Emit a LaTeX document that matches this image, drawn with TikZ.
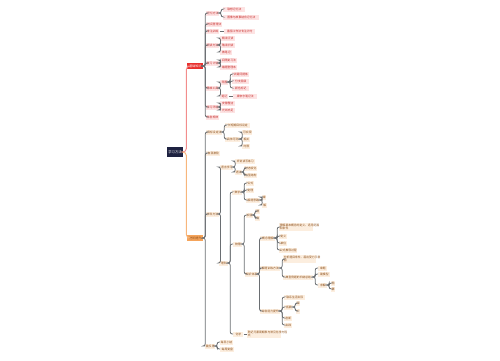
\documentclass[tikz,border=0pt]{standalone}
\usepackage{fontspec}
\newfontfamily\cjk{Noto Sans CJK SC}
\usetikzlibrary{positioning}
\definecolor{navy}{HTML}{1E2241}
\definecolor{mapred}{HTML}{E8302E}
\definecolor{maporange}{HTML}{F5A45B}
\definecolor{pinkfill}{HTML}{FDE3E3}
\definecolor{peachfill}{HTML}{FCEEDF}
\definecolor{spinegray}{HTML}{6A6E72}
\definecolor{brownink}{HTML}{8A4B14}
\tikzset{
  wd/.style={minimum width=#1*0.02cm},
  rootbox/.style={rectangle, fill=navy, text=white, minimum width=0.32cm, minimum height=0.2cm, inner sep=0.3pt, font=\cjk\fontsize{1.9}{2.3}\selectfont},
  redmain/.style={rectangle, anchor=west, fill=mapred, text=white, minimum height=0.12cm, inner sep=0.3pt, font=\cjk\fontsize{1.7}{2}\selectfont},
  ormain/.style={rectangle, anchor=west, fill=maporange, text=brownink, minimum height=0.12cm, inner sep=0.3pt, font=\cjk\fontsize{1.7}{2}\selectfont},
  rl/.style={rectangle, anchor=west, fill=pinkfill, text=mapred!85!black, minimum height=0.1cm, inner sep=0.3pt, font=\cjk\fontsize{1.6}{1.9}\selectfont},
  ol/.style={rectangle, anchor=west, fill=peachfill, text=brownink, minimum height=0.1cm, inner sep=0.3pt, font=\cjk\fontsize{1.6}{1.9}\selectfont},
  twoline/.style={align=left, font=\cjk\fontsize{1.6}{2.1}\selectfont},
  kidline/.style={draw=spinegray, line width=0.45pt, rounded corners=1.2pt},
  mainline/.style={line width=0.55pt, rounded corners=2pt}
}
\begin{document}
\begin{tikzpicture}[x=0.02cm, y=-0.02cm]
  \useasboundingbox (0,0) rectangle (500,360);

  % root and the two main branches
  \node (root) [rootbox] at (175,152) {学习方法};
  \node (R) [redmain, wd=16] at (187,66) {基础知识};
  \node (O) [ormain, wd=16] at (187,238) {进阶提升};
  \draw [mainline, draw=mapred!55] (root.east) -- ++(3,0) |- (R.west);
  \draw [mainline, draw=maporange!80] (root.east) -- ++(3,0) |- (O.west);

  % red branch
  \node (r1) [rl, wd=13] at (206,13) {记忆方法};
  \node (r1a) [rl, wd=22] at (223,9) {联想记忆法};
  \node (r1b) [rl, wd=36] at (223,17) {图像与故事结合记忆法};
  \node (r2) [rl, wd=16] at (206,24) {时间管理法};
  \node (r3) [rl, wd=13] at (206,31) {专注训练};
  \node (r3a) [rl, wd=31] at (224,31) {番茄工作法专注计时};
  \node (r4) [rl, wd=12] at (206,45) {阅读方法};
  \node (r4a) [rl, wd=15] at (220,38) {精读泛读};
  \node (r4b) [rl, wd=15] at (220,45) {略读扫读};
  \node (r4c) [rl, wd=12] at (220,52) {做笔记};
  \node (r5) [rl, wd=12] at (206,63) {复习计划};
  \node (r5a) [rl, wd=17] at (220,60) {间隔复习法};
  \node (r5b) [rl, wd=17] at (220,67) {错题整理本};
  \node (r6) [rl, wd=11] at (206,88) {思维工具};
  \node (r6a) [rl, wd=8] at (220,82) {导图};
  \node (r6a1) [rl, wd=17] at (232,74) {关键词提炼};
  \node (r6a2) [rl, wd=17] at (232,81) {分支层级};
  \node (r6a3) [rl, wd=17] at (232,88) {颜色标记};
  \node (r6b) [rl, wd=8] at (220,96) {笔记};
  \node (r6b1) [rl, wd=24] at (233,96) {康奈尔笔记法};
  \node (r7) [rl, wd=12] at (206,107) {学习环境};
  \node (r7a) [rl, wd=15] at (220,103) {安静整洁};
  \node (r7b) [rl, wd=15] at (220,110) {光线充足};
  \node (r8) [rl, wd=11] at (206,117) {作息规律};

  \foreach \c in {r1,r2,r3,r4,r5,r6,r7,r8}
    \draw [kidline] (R.east) -- ++(1.5,0) |- (\c.west);
  \foreach \p/\c in {r1/r1a, r1/r1b, r4/r4a, r4/r4b, r4/r4c, r5/r5a, r5/r5b,
                     r6/r6a, r6/r6b, r6a/r6a1, r6a/r6a2, r6a/r6a3, r7/r7a, r7/r7b}
    \draw [kidline] (\p.east) -- ++(1.5,0) |- (\c.west);
  \draw [kidline] (r3.east) -- (r3a.west);
  \draw [kidline] (r6b.east) -- (r6b1.west);

  % orange branch
  \node (o1) [ol, wd=16] at (206,132) {目标设定法};
  \node (o1a) [ol, wd=25] at (225,125) {长短期目标设定};
  \node (o1b) [ol, wd=15] at (225,139) {具体可测};
  \node (o1b1) [ol, wd=10] at (242,132) {可实现};
  \node (o1b2) [ol, wd=8] at (242,139) {相关};
  \node (o1b3) [ol, wd=8] at (242,146) {时限};
  \node (o2) [ol, wd=14] at (206,153) {自我激励};
  \node (o3) [ol, wd=12] at (206,214) {学科方法};
  \node (o3a) [ol, wd=13] at (220,167) {语言学习};
  \node (o3a1) [ol, wd=20] at (235,161) {听说读写练习};
  \node (o3a2) [ol, wd=6] at (235,172) {语法};
  \node (o3a2a) [ol, wd=13] at (244,168) {时态变化};
  \node (o3a2b) [ol, wd=13] at (244,175) {句型结构};
  \node (o3b) [ol, wd=9] at (219,263) {理科};
  \node (o3b1) [ol, wd=10] at (232,192) {数学};
  \node (o3b1a) [ol, wd=8] at (246,183) {公式};
  \node (o3b1b) [ol, wd=8] at (246,190) {定理};
  \node (o3b1c) [ol, wd=14] at (246,200) {解题思路};
  \node (o3b1c1) [ol, wd=4] at (262,197) {审};
  \node (o3b1c2) [ol, wd=5] at (262,205) {解};
  \node (o3b2) [ol, wd=9] at (233,244) {物理};
  \node (o3b2a) [ol, wd=6] at (246,215) {实验};
  \node (o3b2a1) [ol, wd=5] at (255,211) {观};
  \node (o3b2a2) [ol, wd=5] at (255,218) {测};
  \node (o3b2b) [ol, wd=12] at (245,274) {知识体系};
  \node (p1) [ol, wd=15] at (260,238) {概念理解};
  \node (p1a) [ol, twoline, text width=0.66cm] at (279,227) {理解基本概念的定义、适用范围\\和条件};
  \node (p1b) [ol, wd=8] at (279,236) {定义};
  \node (p1c) [ol, wd=8] at (279,243) {单位};
  \node (p1d) [ol, wd=18] at (279,250) {公式推导过程};
  \node (p2) [ol, wd=20] at (260,268) {解题训练方法};
  \node (p2a) [ol, twoline, text width=0.64cm] at (283,259) {分析题目条件，画出受力示意\\图};
  \node (p2b) [ol, wd=30] at (283,277) {典型例题的归纳总结};
  \node (p2b1) [ol, wd=9] at (318,268) {审题};
  \node (p2b2) [ol, wd=12] at (318,274) {建模型};
  \node (p2b3) [ol, wd=9] at (318,285) {求解};
  \node (p2b3a) [ol, wd=4] at (331,283) {验};
  \node (p2b3b) [ol, wd=4] at (331,289) {算};
  \node (p3) [ol, wd=20] at (260,311) {综合能力提升};
  \node (p3a) [ol, wd=21] at (284,297) {联系生活实际};
  \node (p3b) [ol, wd=9] at (284,307) {拓展};
  \node (p3b1) [ol, wd=4] at (296,303) {深};
  \node (p3b2) [ol, wd=4] at (296,311) {广};
  \node (p3c) [ol, wd=8] at (284,318) {创新};
  \node (p3d) [ol, wd=8] at (284,325) {实践};
  \node (o3b3) [ol, wd=10] at (233,334) {化学};
  \node (o3b3a) [ol, twoline, text width=0.66cm] at (247,334) {熟记元素周期表与常见化学方程\\式};
  \node (o4) [ol, wd=10] at (205,346) {勤反思};
  \node (o4a) [ol, wd=12] at (220,342) {每日小结};
  \node (o4b) [ol, wd=14] at (220,349) {每周复盘};

  \foreach \c in {o1,o2,o3,o4}
    \draw [kidline] (O.east) -- ++(1.5,0) |- (\c.west);
  \foreach \p/\c in {o1/o1a, o1/o1b, o1b/o1b1, o1b/o1b2, o1b/o1b3,
                     o3/o3a, o3/o3b, o3a/o3a1, o3a/o3a2, o3a2/o3a2a, o3a2/o3a2b,
                     o3b/o3b1, o3b/o3b2, o3b/o3b3, o3b1/o3b1a, o3b1/o3b1b, o3b1/o3b1c,
                     o3b1c/o3b1c1, o3b1c/o3b1c2, o3b2/o3b2a, o3b2/o3b2b,
                     o3b2a/o3b2a1, o3b2a/o3b2a2, o3b2b/p1, o3b2b/p2, o3b2b/p3,
                     p1/p1a, p1/p1b, p1/p1c, p1/p1d, p2/p2a, p2/p2b,
                     p2b/p2b1, p2b/p2b2, p2b/p2b3, p2b3/p2b3a, p2b3/p2b3b,
                     p3/p3a, p3/p3b, p3/p3c, p3/p3d, p3b/p3b1, p3b/p3b2,
                     o4/o4a, o4/o4b}
    \draw [kidline] (\p.east) -- ++(1.5,0) |- (\c.west);
  \draw [kidline] (o3b3.east) -- (o3b3a.west);
\end{tikzpicture}
\end{document}
